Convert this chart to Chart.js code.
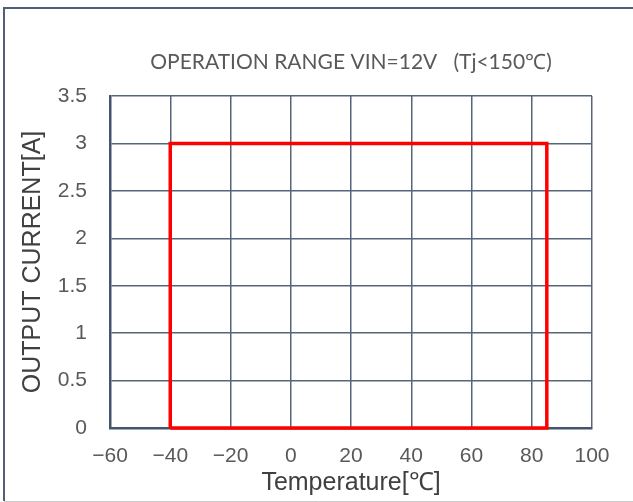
<!DOCTYPE html>
<html>
<head>
<meta charset="utf-8">
<script src="https://cdn.jsdelivr.net/npm/chart.js@4"></script>
<style>
  html, body { margin: 0; padding: 0; background: #fff; }
  #wrap { width: 633px; height: 502px; position: relative; }
</style>
</head>
<body>
<div id="wrap"><canvas id="chart" width="633" height="502"></canvas></div>
<script>
// operation area outline (temperature, current)
const tempPoints = [-40, -40, 85, 85, -40];
const currentPoints = [0, 3, 3, 0, 0];
const xTicks = [-60, -40, -20, 0, 20, 40, 60, 80, 100];
const yTicks = [0, 0.5, 1, 1.5, 2, 2.5, 3, 3.5];

const chartTitle = 'OPERATION RANGE VIN=12V   (Tj<150\u2103)';
const xTitle = 'Temperature[\u2103]';
const yTitle = 'OUTPUT CURRENT[A]';

const textColor = '#595959';
const gridColor = '#56657a';

const framePlugin = {
    id: 'frame',
    beforeDraw(chart) {
        const ctx = chart.ctx;
        ctx.save();
        ctx.fillStyle = '#fff';
        ctx.fillRect(0, 0, chart.width, chart.height);
        ctx.strokeStyle = '#4f5f75';
        ctx.lineWidth = 2;
        ctx.beginPath();
        ctx.moveTo(4, 501);
        ctx.lineTo(4, 8);
        ctx.lineTo(633, 8);
        ctx.stroke();
        ctx.strokeStyle = '#c8c8c8';
        ctx.lineWidth = 1;
        ctx.beginPath();
        ctx.moveTo(4, 501.5);
        ctx.lineTo(633, 501.5);
        ctx.stroke();
        ctx.restore();
    },
    afterDraw(chart) {
        const ctx = chart.ctx;
        ctx.save();
        ctx.fillStyle = textColor;
        ctx.font = '21px Lato';
        ctx.textAlign = 'center';
        ctx.textBaseline = 'middle';
        ctx.fillText(chartTitle, 351, 62);
        ctx.restore();
    }
};

const data = tempPoints.map((t, i) => ({ x: t, y: currentPoints[i] }));

new Chart(document.getElementById('chart'), {
    type: 'scatter',
    data: {
        datasets: [{
            data: data,
            showLine: true,
            borderColor: '#ff0000',
            borderWidth: 3.5,
            pointRadius: 0,
            fill: false,
            tension: 0,
            clip: false
        }]
    },
    options: {
        responsive: false,
        animation: false,
        layout: { padding: { top: 96, right: 41, left: 0, bottom: 0 } },
        plugins: {
            legend: { display: false },
            tooltip: { enabled: false }
        },
        scales: {
            x: {
                type: 'linear',
                min: -60,
                max: 100,
                afterFit(scale) { scale.height = 74; },
                afterBuildTicks(scale) { scale.ticks = xTicks.map(v => ({ value: v })); },
                grid: { color: gridColor, lineWidth: 1.5, drawTicks: false },
                border: { color: '#44546a', width: 2.5 },
                ticks: {
                    color: textColor,
                    font: { family: 'Liberation Sans', size: 21 },
                    padding: 16,
                    maxRotation: 0,
                    callback: v => String(v).replace('-', '\u2212')
                },
                title: {
                    display: true,
                    text: xTitle,
                    color: '#404040',
                    font: { family: 'Liberation Sans', size: 25 },
                    padding: { top: 0, bottom: 4 }
                }
            },
            y: {
                type: 'linear',
                min: 0,
                max: 3.5,
                afterFit(scale) { scale.width = 110; },
                afterBuildTicks(scale) { scale.ticks = yTicks.map(v => ({ value: v })); },
                grid: { color: gridColor, lineWidth: 1.5, drawTicks: false },
                border: { color: '#44546a', width: 2.5 },
                ticks: {
                    color: textColor,
                    font: { family: 'Liberation Sans', size: 21 },
                    padding: 23,
                    callback: v => String(v)
                },
                title: {
                    display: true,
                    text: yTitle,
                    color: '#404040',
                    font: { family: 'Liberation Sans', size: 25 },
                    padding: { top: 18, bottom: 0 }
                }
            }
        }
    },
    plugins: [framePlugin]
});
</script>
</body>
</html>
